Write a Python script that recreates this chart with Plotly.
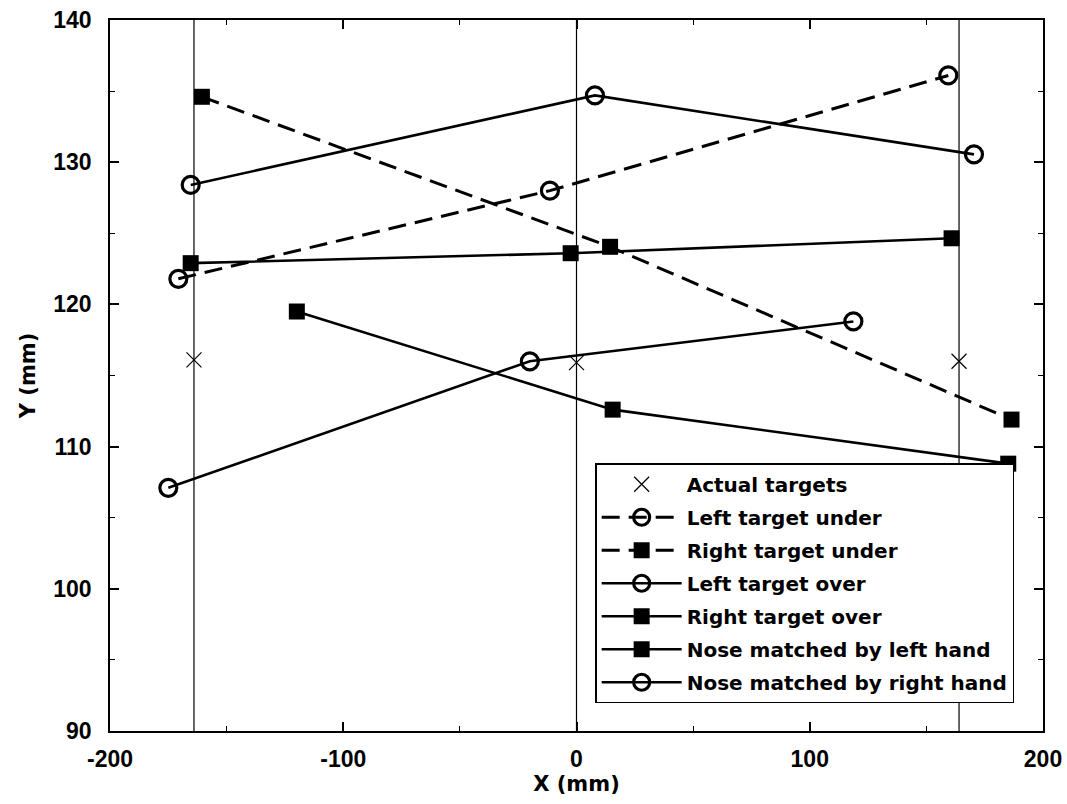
import plotly.graph_objects as go

# Data
target_x = [-164, 0, 164]
target_y = [116.1, 115.9, 116.0]

left_under_x = [-170.7, -11.4, 159.4]
left_under_y = [121.8, 128.0, 136.1]

right_under_x = [-160.6, 14.4, 186.5]
right_under_y = [134.6, 124.05, 111.9]

left_over_x = [-165.4, 7.9, 170.4]
left_over_y = [128.4, 134.7, 130.55]

right_over_x = [-165.4, -2.5, 160.8]
right_over_y = [122.9, 123.6, 124.65]

nose_left_x = [-119.9, 15.5, 185.1]
nose_left_y = [119.5, 112.6, 108.8]

nose_right_x = [-175.0, -20.0, 118.7]
nose_right_y = [107.1, 116.0, 118.8]

x_ticks = [-200, -100, 0, 100, 200]
x_tick_text = ["-200", "-100", "0", "100", "200"]
y_ticks = [90, 100, 110, 120, 130, 140]

BLACK = "#000000"
circle = dict(symbol="circle-open", size=17, color=BLACK, line=dict(width=3.2, color=BLACK))
square = dict(symbol="square", size=16, color=BLACK, line=dict(width=0))

fig = go.Figure()

for xv in target_x:
    fig.add_vline(x=xv, line=dict(color=BLACK, width=1.2), layer="below")

fig.add_trace(go.Scatter(x=target_x, y=target_y, mode="markers", name="Actual targets",
                         legendgroup="g1",
                         marker=dict(symbol="x-thin-open", size=15, color=BLACK,
                                     line=dict(width=1.2, color=BLACK))))
fig.add_trace(go.Scatter(x=left_under_x, y=left_under_y, mode="lines+markers",
                         name="Left target under", marker=circle, legendgroup="g2",
                         line=dict(color=BLACK, width=3, dash="18px,9px")))
fig.add_trace(go.Scatter(x=right_under_x, y=right_under_y, mode="lines+markers",
                         name="Right target under", marker=square, legendgroup="g3",
                         line=dict(color=BLACK, width=3, dash="18px,9px")))
fig.add_trace(go.Scatter(x=left_over_x, y=left_over_y, mode="lines+markers",
                         name="Left target over", marker=circle, legendgroup="g4",
                         line=dict(color=BLACK, width=2.6)))
fig.add_trace(go.Scatter(x=right_over_x, y=right_over_y, mode="lines+markers",
                         name="Right target over", marker=square, legendgroup="g5",
                         line=dict(color=BLACK, width=2.6)))
fig.add_trace(go.Scatter(x=nose_left_x, y=nose_left_y, mode="lines+markers",
                         name="Nose matched by left hand", marker=square, legendgroup="g6",
                         line=dict(color=BLACK, width=2.6)))
fig.add_trace(go.Scatter(x=nose_right_x, y=nose_right_y, mode="lines+markers",
                         name="Nose matched by right hand", marker=circle, legendgroup="g7",
                         line=dict(color=BLACK, width=2.6)))

tick_family = "Liberation Sans, Arial, sans-serif"
text_family = "DejaVu Sans, Liberation Sans, sans-serif"

axis_common = dict(
    showgrid=False, zeroline=False, showline=True, linecolor=BLACK, linewidth=1.8,
    mirror="allticks", ticks="inside", ticklen=9, tickwidth=1.5, tickcolor=BLACK,
    automargin=False, ticklabeloverflow="allow",
    tickfont=dict(family=tick_family, size=23, color=BLACK, weight="bold"),
)

fig.update_layout(
    width=1067, height=804,
    margin=dict(l=110, r=24, t=20, b=73, autoexpand=False),
    plot_bgcolor="white", paper_bgcolor="white",
    font=dict(family=text_family, color=BLACK),
    showlegend=True,
    legend=dict(
        x=0.52, y=0.039, xanchor="left", yanchor="bottom",
        bgcolor="white", bordercolor=BLACK, borderwidth=1.5,
        font=dict(family=text_family, size=20, color=BLACK, weight="bold"),
        itemwidth=80, tracegroupgap=4,
    ),
    xaxis=dict(
        range=[-200, 200], tickvals=x_ticks, ticktext=x_tick_text,
        ticklabelstandoff=6,
        minor=dict(ticks="inside", ticklen=5, tickwidth=1, tickcolor=BLACK, dtick=50),
        title=dict(text="X (mm)", font=dict(family=text_family, size=21, color=BLACK, weight="bold"),
                   standoff=6),
        **axis_common,
    ),
    yaxis=dict(
        range=[90, 140], tickvals=y_ticks,
        ticklabelstandoff=12,
        minor=dict(ticks="inside", ticklen=5, tickwidth=1, tickcolor=BLACK, dtick=5),
        title=dict(text="Y (mm)", font=dict(family=text_family, size=21, color=BLACK, weight="bold"),
                   standoff=12),
        **axis_common,
    ),
)

# Remove the default page margin so the 1067x804 figure fills the window exactly.
page_fix = (
    "document.body.style.margin='0';"
    "document.body.style.overflow='hidden';"
    "document.documentElement.style.overflow='hidden';"
)

fig.write_html("out.html", post_script=page_fix, config={"displayModeBar": False})
